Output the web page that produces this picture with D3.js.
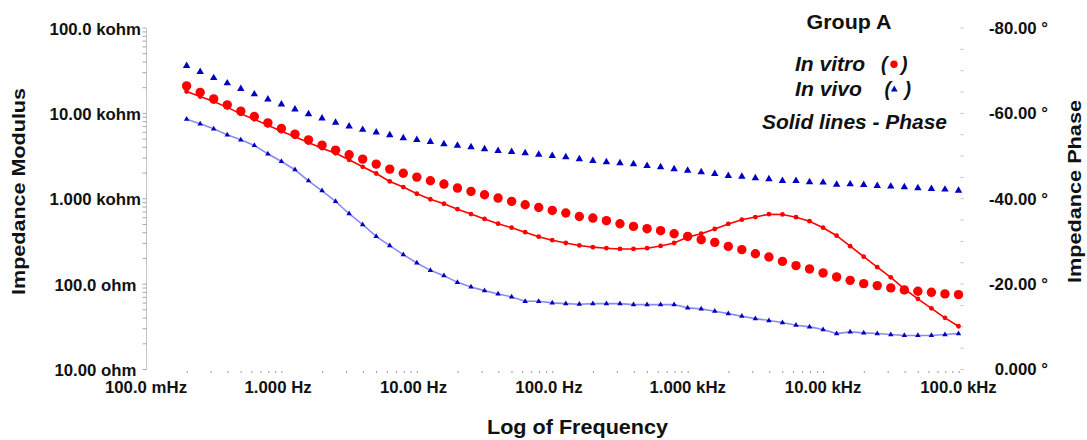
<!DOCTYPE html>
<html>
<head>
<meta charset="utf-8">
<script src="https://cdn.jsdelivr.net/npm/d3@7"></script>
<style>
  html, body { margin: 0; padding: 0; background: #ffffff; }
  svg { display: block; }
  text { font-family: "Liberation Sans", Arial, sans-serif; font-weight: bold; fill: #111111; }
</style>
</head>
<body>
<svg id="chart" width="1087" height="440"></svg>
<script>
// Sweep frequencies (Hz), 10 points per decade
const freqHz = [
  0.1995, 0.2512, 0.3162, 0.3981, 0.5012, 0.6310, 0.7943,
  1.000, 1.259, 1.585, 1.995, 2.512, 3.162, 3.981, 5.012, 6.310, 7.943,
  10.00, 12.59, 15.85, 19.95, 25.12, 31.62, 39.81, 50.12, 63.10, 79.43,
  100.0, 125.9, 158.5, 199.5, 251.2, 316.2, 398.1, 501.2, 631.0, 794.3,
  1000, 1259, 1585, 1995, 2512, 3162, 3981, 5012, 6310, 7943,
  10000, 12589, 15849, 19953, 25119, 31623, 39811, 50119, 63096, 79433, 100000
];

// Impedance modulus (ohm)
const modulusInVitro = [
  20700, 17380, 14580, 12410, 10470, 9060, 7640, 6550, 5635, 4830,
  4190, 3660, 3228, 2875, 2512, 2196, 1960, 1770, 1603, 1466,
  1316, 1202, 1099, 1005, 918, 839, 780, 720, 671, 612,
  586, 546, 503, 468, 440, 417, 384, 357, 327, 304,
  273, 250, 224, 205, 182, 162.4, 148.6, 133.4, 119.8, 109.3,
  100, 94.8, 89.1, 84.4, 81.3, 79.1, 75.8, 74.3
];
const modulusInVivo = [
  35500, 30200, 25650, 22250, 19100, 16550, 14390, 12570, 10990, 9660,
  8630, 7710, 6950, 6350, 5915, 5485, 5060, 4830, 4580, 4305,
  4150, 3970, 3760, 3595, 3500, 3380, 3250, 3140, 3035, 2875,
  2745, 2650, 2580, 2510, 2400, 2317, 2196, 2113, 2024, 1935,
  1833, 1799, 1722, 1678, 1603, 1603, 1546, 1531, 1445, 1460,
  1438, 1400, 1374, 1352, 1316, 1291, 1268, 1233
];

// Impedance phase (degrees)
const phaseInVitro = [
  -64.98, -63.81, -62.64, -61.29, -59.77, -58.48, -57.08, -55.72, -54.39, -53.05,
  -51.74, -50.53, -49.01, -47.37, -45.80, -43.93, -42.62, -41.05, -39.77, -38.71,
  -37.43, -36.30, -35.16, -34.04, -33.10, -32.05, -30.99, -30.18, -29.52, -28.94,
  -28.54, -28.30, -28.12, -28.12, -28.30, -28.82, -29.52, -30.92, -31.70, -32.80,
  -33.99, -34.97, -35.60, -36.26, -36.21, -35.56, -34.62, -33.10, -31.23, -28.77,
  -26.32, -23.86, -21.47, -18.76, -16.44, -14.22, -11.98, -10.01
];
const phaseInVivo = [
  -58.53, -57.43, -56.26, -54.85, -53.68, -52.35, -50.41, -48.61, -46.67, -44.09,
  -41.75, -39.25, -36.37, -33.80, -31.06, -28.89, -26.78, -24.84, -23.11, -21.87,
  -20.30, -19.23, -18.36, -17.59, -16.89, -15.86, -15.86, -15.49, -15.32, -15.16,
  -15.32, -15.32, -15.32, -15.09, -15.09, -15.09, -15.09, -14.32, -14.08, -13.52,
  -12.98, -12.35, -11.81, -11.35, -10.88, -10.25, -9.87, -9.24, -8.30, -8.70,
  -8.47, -8.30, -8.07, -7.84, -7.84, -7.84, -8.07, -8.30
];

// Axis ticks and labels
const freqTicks = [0.1, 1, 10, 100, 1000, 10000, 100000];
const freqTickLabels = ["100.0 mHz", "1.000 Hz", "10.00 Hz", "100.0 Hz", "1.000 kHz", "10.00 kHz", "100.0 kHz"];
const modulusTicks = [10, 100, 1000, 10000, 100000];
const modulusTickLabels = ["10.00 ohm", "100.0 ohm", "1.000 kohm", "10.00 kohm", "100.0 kohm"];
const phaseTicks = [0, -20, -40, -60, -80];
const phaseTickLabels = ["0.000 °", "-20.00 °", "-40.00 °", "-60.00 °", "-80.00 °"];

const svg = d3.select("#chart");

const x = d3.scaleLog().domain([0.1, 100000]).range([146, 958.5]);
const yMod = d3.scaleLog().domain([10, 100000]).range([369, 27.5]);
const yPh = d3.scaleLinear().domain([0, -80]).range([369, 27.5]);

// minor tick values: 1..9 within each decade
function logMinor(lo, hi) {
  const out = [];
  for (let d = lo; d < hi; d *= 10) for (let k = 1; k < 10; k++) out.push(k * d);
  out.push(hi);
  return out;
}

// ---- left axis (modulus)
const left = svg.append("g").attr("transform", "translate(146.5,0)")
  .call(d3.axisLeft(yMod).tickValues(logMinor(10, 100000)).tickFormat("").tickSize(4).tickSizeOuter(0));
left.select(".domain").attr("stroke", "#c4c4c4").attr("d", "M0,29V369");
left.selectAll(".tick line").attr("stroke", "#a8a8a8");

svg.append("g").selectAll("text").data(modulusTicks).join("text")
  .attr("x", (d, i) => modulusTickLabels[i].indexOf("kohm") >= 0 ? 141 : 136.5)
  .attr("y", d => yMod(d) + 7)
  .attr("text-anchor", "end")
  .attr("font-size", "16.8px")
  .text((d, i) => modulusTickLabels[i]);

// ---- bottom axis (frequency)
const bottom = svg.append("g").attr("transform", "translate(0,371)")
  .call(d3.axisBottom(x).tickValues(logMinor(0.1, 100000).slice(1)).tickFormat("").tickSize(2).tickSizeOuter(0));
bottom.select(".domain").remove();
bottom.selectAll(".tick line").attr("stroke", "#9a9a9a");

svg.append("g").selectAll("text").data(freqTicks).join("text")
  .attr("x", (d, i) => x(d) + (/^[\d.]+ Hz$/.test(freqTickLabels[i]) ? -3.3 : 0))
  .attr("y", 392.5)
  .attr("text-anchor", "middle")
  .attr("font-size", "16.8px")
  .text((d, i) => freqTickLabels[i]);

// ---- right axis (phase)
const right = svg.append("g").attr("transform", "translate(960.5,0)")
  .call(d3.axisRight(yPh).tickValues(d3.range(0, -81, -5)).tickFormat("").tickSize(3).tickSizeOuter(0));
right.select(".domain").remove();
right.selectAll(".tick line").attr("stroke", "#c0c0c0");

svg.append("g").selectAll("text").data(phaseTicks).join("text")
  .attr("x", 1048)
  .attr("y", d => yPh(d) + 6.3)
  .attr("text-anchor", "end")
  .attr("font-size", "16.8px")
  .text((d, i) => phaseTickLabels[i]);

// ---- axis titles
svg.append("text")
  .attr("x", 487).attr("y", 433.5)
  .attr("font-size", "20px")
  .attr("textLength", 181).attr("lengthAdjust", "spacingAndGlyphs")
  .text("Log of Frequency");

svg.append("text")
  .attr("transform", "translate(24.5,191.5) rotate(-90)")
  .attr("text-anchor", "middle")
  .attr("font-size", "19px")
  .attr("textLength", 207).attr("lengthAdjust", "spacingAndGlyphs")
  .text("Impedance Modulus");

svg.append("text")
  .attr("transform", "translate(1081,191.5) rotate(-90)")
  .attr("text-anchor", "middle")
  .attr("font-size", "19px")
  .attr("textLength", 183).attr("lengthAdjust", "spacingAndGlyphs")
  .text("Impedance Phase");

// ---- series
const RED = "#ff0000";
const BLUE = "#0000c0";
const idx = d3.range(freqHz.length);

// modulus, in vitro: large red dots
svg.append("g").selectAll("circle").data(idx).join("circle")
  .attr("cx", i => x(freqHz[i]))
  .attr("cy", i => yMod(modulusInVitro[i]))
  .attr("r", 4.7)
  .attr("fill", RED);

// modulus, in vivo: blue triangles
const triBig = d3.symbol().type(d3.symbolTriangle).size(24);
svg.append("g").selectAll("path").data(idx).join("path")
  .attr("transform", i => `translate(${x(freqHz[i])},${yMod(modulusInVivo[i])})`)
  .attr("d", triBig)
  .attr("fill", BLUE);

// phase, in vivo: light blue line with small triangles
const linePh = arr => d3.line().x(i => x(freqHz[i])).y(i => yPh(arr[i]))(idx);
svg.append("path")
  .attr("d", linePh(phaseInVivo))
  .attr("fill", "none")
  .attr("stroke", "#8a8af0")
  .attr("stroke-width", 1.6);
const triSmall = d3.symbol().type(d3.symbolTriangle).size(13);
svg.append("g").selectAll("path").data(idx).join("path")
  .attr("transform", i => `translate(${x(freqHz[i])},${yPh(phaseInVivo[i])})`)
  .attr("d", triSmall)
  .attr("fill", BLUE);

// phase, in vitro: red line with small dots
svg.append("path")
  .attr("d", linePh(phaseInVitro))
  .attr("fill", "none")
  .attr("stroke", RED)
  .attr("stroke-width", 1.6);
svg.append("g").selectAll("circle").data(idx).join("circle")
  .attr("cx", i => x(freqHz[i]))
  .attr("cy", i => yPh(phaseInVitro[i]))
  .attr("r", 2.4)
  .attr("fill", RED);

// ---- legend
const legend = svg.append("g").attr("font-style", "italic");
svg.append("text")
  .attr("x", 849).attr("y", 28.5)
  .attr("text-anchor", "middle")
  .attr("font-size", "19.5px")
  .attr("textLength", 85).attr("lengthAdjust", "spacingAndGlyphs")
  .text("Group A");

legend.append("text").attr("x", 795).attr("y", 70.5).attr("font-size", "19.5px")
  .attr("textLength", 70).attr("lengthAdjust", "spacingAndGlyphs").text("In vitro");
legend.append("text").attr("x", 881).attr("y", 70.5).attr("font-size", "19.5px").text("(");
legend.append("circle").attr("cx", 894).attr("cy", 64.3).attr("r", 3.7).attr("fill", RED);
legend.append("text").attr("x", 901).attr("y", 70.5).attr("font-size", "19.5px").text(")");

legend.append("text").attr("x", 795).attr("y", 95.5).attr("font-size", "19.5px")
  .attr("textLength", 67).attr("lengthAdjust", "spacingAndGlyphs").text("In vivo");
legend.append("text").attr("x", 884.5).attr("y", 95.5).attr("font-size", "19.5px").text("(");
legend.append("path").attr("transform", "translate(894.3,89.5)")
  .attr("d", d3.symbol().type(d3.symbolTriangle).size(20)).attr("fill", BLUE);
legend.append("text").attr("x", 904.5).attr("y", 95.5).attr("font-size", "19.5px").text(")");

legend.append("text").attr("x", 762).attr("y", 128.5).attr("font-size", "19.5px")
  .attr("textLength", 185).attr("lengthAdjust", "spacingAndGlyphs").text("Solid lines - Phase");
</script>
</body>
</html>
